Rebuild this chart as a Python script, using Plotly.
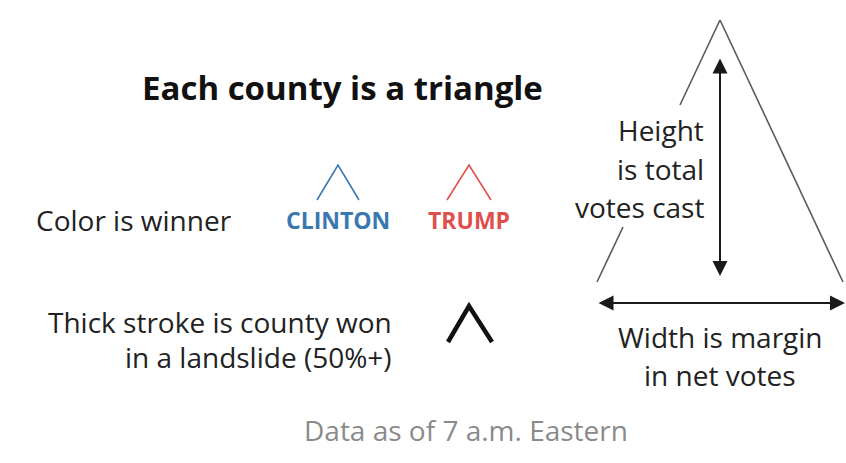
import plotly.graph_objects as go

BG = "#ffffff"
BLUE = "#3a78b0"
RED = "#df4f4c"
GRAY_LINE = "#5a5a5a"
FONT = "Open Sans"

# legend glyphs: (x list, y list) in pixel space of the 846x463 canvas
clinton_x = [317, 338, 359]
clinton_y = [200, 165, 200]
trump_x = [447, 469, 491]
trump_y = [200, 165, 200]
landslide_x = [448, 469, 492]
landslide_y = [342, 306, 342]

# big explainer triangle, left leg is broken around the label
big_left_top_x = [720, 680]
big_left_top_y = [20, 105]
big_left_low_x = [623, 597]
big_left_low_y = [227, 282]
big_right_x = [720, 843]
big_right_y = [20, 282]

fig = go.Figure()

def seg(x, y, color, width):
    fig.add_trace(go.Scatter(x=x, y=y, mode="lines", hoverinfo="skip",
                             line=dict(color=color, width=width)))

seg(clinton_x, clinton_y, BLUE, 1.6)
seg(trump_x, trump_y, RED, 1.6)
seg(landslide_x, landslide_y, "#111111", 4.5)
seg(big_left_top_x, big_left_top_y, GRAY_LINE, 1.6)
seg(big_left_low_x, big_left_low_y, GRAY_LINE, 1.6)
seg(big_right_x, big_right_y, GRAY_LINE, 1.6)

# double-headed arrows
for (x0, y0, x1, y1) in [(720, 57, 720, 276), (597, 303, 845, 303)]:
    fig.add_annotation(x=x1, y=y1, ax=x0, ay=y0, xref="x", yref="y",
                       axref="x", ayref="y", text="", showarrow=True,
                       arrowhead=2, startarrowhead=2, arrowside="end+start",
                       arrowsize=1.5, startarrowsize=1.5,
                       arrowwidth=2, arrowcolor="#1a1a1a")

def label(x, y, text, size=28, color="#222222", anchor="center", bold=False):
    fig.add_annotation(x=x, y=y, xref="x", yref="y", text=text,
                       showarrow=False, xanchor=anchor, yanchor="middle",
                       align=anchor if anchor != "center" else "center",
                       font=dict(family=FONT, size=size, color=color,
                                 weight=700 if bold else 400))

label(342, 87, "Each county is a triangle", size=33, color="#111111", bold=True)
label(34, 220, "Color is winner", anchor="left")
label(338, 220, "CLINTON", size=23, color=BLUE, bold=True)
label(469, 220, "TRUMP", size=23, color=RED, bold=True)
label(394, 322, "Thick stroke is county won", anchor="right")
label(394, 357, "in a landslide (50%+)", anchor="right")
label(706, 130, "Height", anchor="right")
label(706, 169, "is total", anchor="right")
label(706, 207, "votes cast", anchor="right")
label(720, 337, "Width is margin")
label(720, 375, "in net votes")
label(466, 430, "Data as of 7 a.m. Eastern", color="#8a8a8a")

fig.update_xaxes(range=[0, 846], visible=False, fixedrange=True)
fig.update_yaxes(range=[463, 0], visible=False, fixedrange=True)
fig.update_layout(width=846, height=463, margin=dict(l=0, r=0, t=0, b=0),
                  plot_bgcolor=BG, paper_bgcolor=BG, showlegend=False)

fig.write_html("out.html", config={"displayModeBar": False},
               post_script="document.body.style.margin='0';")
